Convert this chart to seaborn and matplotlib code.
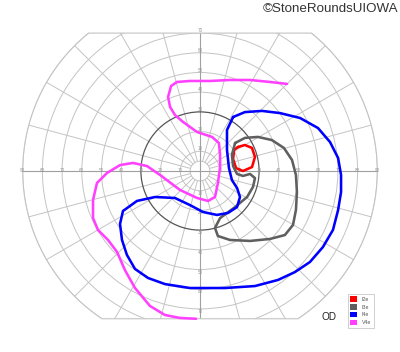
import numpy as np
import matplotlib
matplotlib.use("Agg")
import matplotlib.pyplot as plt
from matplotlib.patches import Polygon, Circle, Patch
import seaborn as sns

sns.set_theme(style="white")
plt.rcParams['font.family'] = ['Liberation Sans', 'DejaVu Sans']

# ---- data (visual field isopters, degrees: x = horizontal, y = vertical) ----
isopter_names = ["I2e", "I3e", "I4e", "V4e"]
isopter_colors = ["#ff0000", "#5f5f5f", "#0000ff", "#ff40ff"]

i2e_x = [19.3, 22.8, 26.4, 27.9, 26.4, 21.8, 18.3, 16.8, 17.3, 19.3]
i2e_y = [12.2, 13.2, 11.7, 7.1, 2.0, 0.0, 1.5, 6.1, 10.7, 12.2]

i3e_x = [17.8, 22.8, 29.4, 36.5, 42.6, 46.7, 48.7, 49.2, 48.7, 47.2, 43.1, 35.5, 25.4,
         15.2, 9.1, 7.6, 10.2, 17.8, 23.9, 26.9, 27.9, 25.4, 21.8, 18.8, 16.8, 16.2, 17.8]
i3e_y = [14.2, 16.8, 17.3, 15.7, 11.7, 5.6, -2.0, -10.7, -19.8, -27.4, -32.5, -34.5, -35.5,
         -35.0, -33.0, -28.9, -23.9, -18.3, -13.2, -8.1, -3.6, -1.5, -2.5, -1.5, 2.5, 8.1, 14.2]

i4e_x = [16.8, 22.8, 31.5, 40.6, 50.8, 59.9, 66.0, 70.1, 71.6, 71.6, 70.1, 67.5, 62.4, 55.8,
         48.2, 39.6, 27.9, 12.7, -5.1, -17.8, -26.4, -33.0, -37.1, -39.6, -40.6, -39.1, -32.0,
         -22.8, -12.7, -5.1, 1.5, 8.6, 14.2, 18.8, 20.3, 18.8, 16.2, 14.7, 13.7, 13.7, 16.8]
i4e_y = [27.4, 29.9, 30.5, 29.4, 26.9, 21.8, 14.7, 6.6, -2.0, -10.7, -19.8, -29.9, -38.6, -46.2,
         -51.3, -55.3, -58.4, -59.4, -59.4, -57.4, -54.3, -49.7, -42.6, -35.0, -26.9, -20.3, -15.2,
         -13.2, -13.7, -17.3, -20.8, -22.3, -21.3, -18.3, -13.2, -8.6, -4.6, 1.5, 10.7, 20.8, 27.4]

v4e_x = [44.2, 35.5, 25.4, 15.2, 5.1, -5.1, -11.7, -14.7, -16.2, -15.2, -12.7, -8.6, -1.5, 6.1,
         9.6, 10.2, 10.2, 9.1, 7.6, 4.1, -1.5, -10.2, -20.3, -26.9, -34.0, -40.6, -47.2, -52.3,
         -54.3, -54.3, -51.8, -46.7, -42.1, -38.1, -33.0, -25.4, -17.8, -10.2, -2.0]
v4e_y = [44.2, 45.2, 46.2, 46.2, 45.7, 45.7, 45.2, 43.1, 37.6, 32.5, 28.4, 24.9, 19.8, 17.3,
         14.2, 8.1, 2.0, -6.1, -13.2, -15.2, -13.7, -9.6, -2.0, 2.5, 4.1, 3.0, -1.0, -6.1,
         -14.7, -23.9, -29.9, -35.0, -41.1, -50.3, -59.4, -68.5, -73.1, -74.6, -75.0]

ring_radii = [5, 10, 20, 30, 40, 50, 60, 70, 80, 90]
meridians = list(range(0, 360, 15))
h_labels = [10, 20, 30, 40, 50, 60, 70, 80, 90]
v_labels = [10, 20, 30, 40, 50, 60, 70]
field_top, field_bottom, field_max = 70, -75, 90

# ---- figure ----
fig = plt.figure(figsize=(4.0, 3.52), dpi=100)
ax = fig.add_axes([0, 0, 1, 1])
ppd = 1.97
ax.set_xlim(-200 / ppd, 200 / ppd)
ax.set_ylim(-181 / ppd, 171 / ppd)
ax.set_aspect('equal')
ax.axis('off')

# field region (outer circle clipped top/bottom)
tt = np.arcsin(field_top / field_max)
tb = np.arcsin(field_bottom / field_max)
a1 = np.linspace(tb, tt, 200)
a2 = np.linspace(np.pi - tt, np.pi - tb, 200)
ang = np.concatenate([a1, a2])
region = np.column_stack([field_max * np.cos(ang), field_max * np.sin(ang)])
clip = Polygon(region, closed=True, transform=ax.transData, fill=False)

grid_c = "#c4c4c4"
for r in ring_radii:
    if r == 30:
        c = Circle((0, 0), r, fill=False, ec="#555555", lw=0.9, zorder=2)
    else:
        c = Circle((0, 0), r, fill=False, ec=grid_c, lw=0.7, zorder=1)
    ax.add_patch(c)
    c.set_clip_path(clip)

for m in meridians:
    th = np.deg2rad(m)
    if m % 90 == 0:
        col, lw, r0 = "#a0a0a0", 0.8, 0
    else:
        col, lw, r0 = grid_c, 0.7, 5
    ln, = ax.plot([r0 * np.cos(th), 100 * np.cos(th)], [r0 * np.sin(th), 100 * np.sin(th)],
                  color=col, lw=lw, zorder=1)
    ln.set_clip_path(clip)

outline = Polygon(region, closed=True, fill=False, ec=grid_c, lw=0.8, zorder=1)
ax.add_patch(outline)

lab_kw = dict(fontsize=3.3, color="#9a9a9a", zorder=3)
for v in h_labels:
    ax.text(-v, 0, str(v), ha='center', va='center', **lab_kw)
    ax.text(v, 0, str(v), ha='center', va='center', **lab_kw)
for v in v_labels:
    ax.text(0, v, str(v), ha='center', va='bottom', **lab_kw)
    ax.text(0, -v, str(v), ha='center', va='top', **lab_kw)

# isopters
series = [(i2e_x, i2e_y), (i3e_x, i3e_y), (i4e_x, i4e_y), (v4e_x, v4e_y)]
for (xs, ys), col in zip(series, isopter_colors):
    sns.lineplot(x=xs, y=ys, sort=False, estimator=None, color=col, lw=1.85, ax=ax,
                 zorder=4, solid_joinstyle='round', solid_capstyle='round')

# legend
handles = [Patch(facecolor=c, edgecolor='none') for c in isopter_colors]
leg = fig.legend(handles, isopter_names, loc='upper left',
                 bbox_to_anchor=(345 / 400, 1 - 291 / 352), fontsize=3.8,
                 frameon=True, handlelength=1.2, handleheight=1.2, handletextpad=1.0,
                 borderpad=0.5, labelspacing=0.45, fancybox=False)
leg.get_frame().set_edgecolor("#bbbbbb")
leg.get_frame().set_linewidth(0.6)
for t in leg.get_texts():
    t.set_color("#555555")

fig.text(329 / 400, 1 - 317 / 352, "OD", ha='center', va='center', fontsize=7.2, color="#222222")
fig.text(398 / 400, 1 - 9 / 352, "\u00a9StoneRoundsUIOWA", ha='right', va='center',
         fontsize=9.6, color="#333333")

fig.savefig("out.png", dpi=100)
